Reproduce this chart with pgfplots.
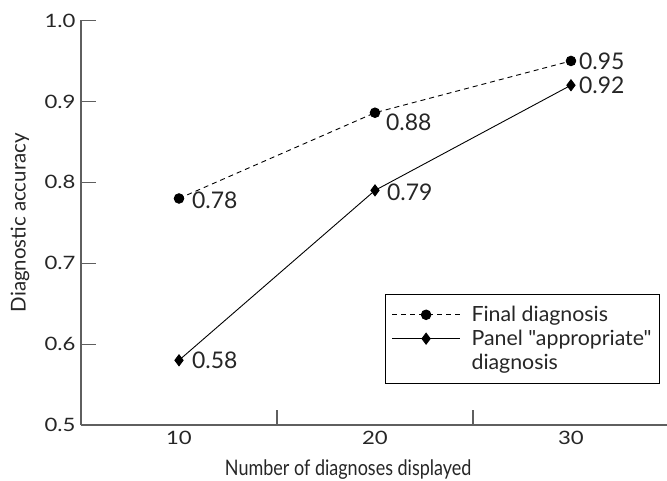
\documentclass[border=0pt]{standalone}
\usepackage{pgfplots}
\pgfplotsset{compat=1.18}
\usepackage{fontspec}
\setmainfont{Lato}
\newfontfamily\tickfam{Lato}[FakeStretch=1.2]
\newfontfamily\legfam{Lato}[FakeStretch=1.02]
\newfontfamily\xlabfam{Lato}[FakeStretch=0.84]
\definecolor{axgray}{RGB}{95,95,95}
\newcommand{\tf}{\tickfam\fontsize{18.5}{22}\selectfont}
\newcommand{\lf}{\legfam\fontsize{21}{26}\selectfont}
\newcommand{\df}{\fontsize{23}{26}\selectfont}
\begin{document}
\begin{tikzpicture}
\begin{axis}[
  scale only axis,
  width=586bp, height=404.5bp,
  xmin=5, xmax=34.9, ymin=0.5, ymax=1.0,
  axis x line*=bottom, axis y line*=left,
  axis line style={axgray, line width=1.2pt},
  every tick/.style={axgray, line width=1.2pt},
  tick align=inside,
  xtick={15,25}, xticklabels={},
  extra x ticks={10,20,30},
  extra x tick labels={10,20,30},
  extra x tick style={major tick length=0pt},
  ytick={0.5,0.6,0.7,0.8,0.9,1.0},
  major tick length=15bp,
  yticklabel style={xshift=-2bp, /pgf/number format/.cd, fixed, fixed zerofill, precision=1},
  /pgf/number format/assume math mode=true,
  tick label style={font=\tf, text=black!85},
  xticklabel style={yshift=-3bp},
  xlabel={Number of diagnoses displayed},
  ylabel={Diagnostic accuracy},
  xlabel style={font=\xlabfam\fontsize{21.5}{24}\selectfont, text=black!85,
    at={(axis description cs:0.456,0)}, anchor=base, yshift=-50bp},
  ylabel style={font=\fontsize{20.5}{24}\selectfont, text=black!85,
    at={(axis description cs:-0.104,0.5)}, anchor=center, rotate=0},
  clip=false,
  legend style={at={(0.988,0.324)}, anchor=north east, draw=black, line width=0.8pt,
    font=\lf, text=black!85, inner xsep=6bp, inner ysep=10bp, row sep=3bp,
    /tikz/every odd column/.append style={column sep=9bp}},
  legend cell align=left,
  legend image code/.code={\draw[mark repeat=2, mark phase=2] plot coordinates {(0bp,0bp) (34bp,0bp) (68bp,0bp)};},
]
\addplot[black, line width=0.9pt, dash pattern=on 5bp off 4bp, mark=*, mark size=4.8bp,
  mark options={solid}] coordinates {(10,0.78) (20,0.886) (30,0.95)};
\addlegendentry{Final diagnosis}
\addplot[black, line width=0.9pt, mark=diamond*, mark size=5.5bp,
  mark options={solid}] coordinates {(10,0.58) (20,0.79) (30,0.92)};
\addlegendentry{Panel "appropriate"}
\addlegendimage{empty legend}
\addlegendentry{diagnosis}
\node[anchor=west, font=\df, text=black!85, inner sep=0pt] at (axis cs:10,0.78) [xshift=13bp, yshift=-2bp] {0.78};
\node[anchor=west, font=\df, text=black!85, inner sep=0pt] at (axis cs:20,0.886) [xshift=11bp, yshift=-10bp] {0.88};
\node[anchor=west, font=\df, text=black!85, inner sep=0pt] at (axis cs:30,0.95) [xshift=8bp] {0.95};
\node[anchor=west, font=\df, text=black!85, inner sep=0pt] at (axis cs:10,0.58) [xshift=13bp] {0.58};
\node[anchor=west, font=\df, text=black!85, inner sep=0pt] at (axis cs:20,0.79) [xshift=12bp, yshift=-2bp] {0.79};
\node[anchor=west, font=\df, text=black!85, inner sep=0pt] at (axis cs:30,0.92) [xshift=8bp] {0.92};
\path (rel axis cs:0,0) ++(-81bp,-56bp) coordinate (bbA);
\path (rel axis cs:0,0) ++(586bp,425bp) coordinate (bbB);
\end{axis}
\pgfresetboundingbox
\path[use as bounding box] (bbA) rectangle (bbB);
\end{tikzpicture}
\end{document}
